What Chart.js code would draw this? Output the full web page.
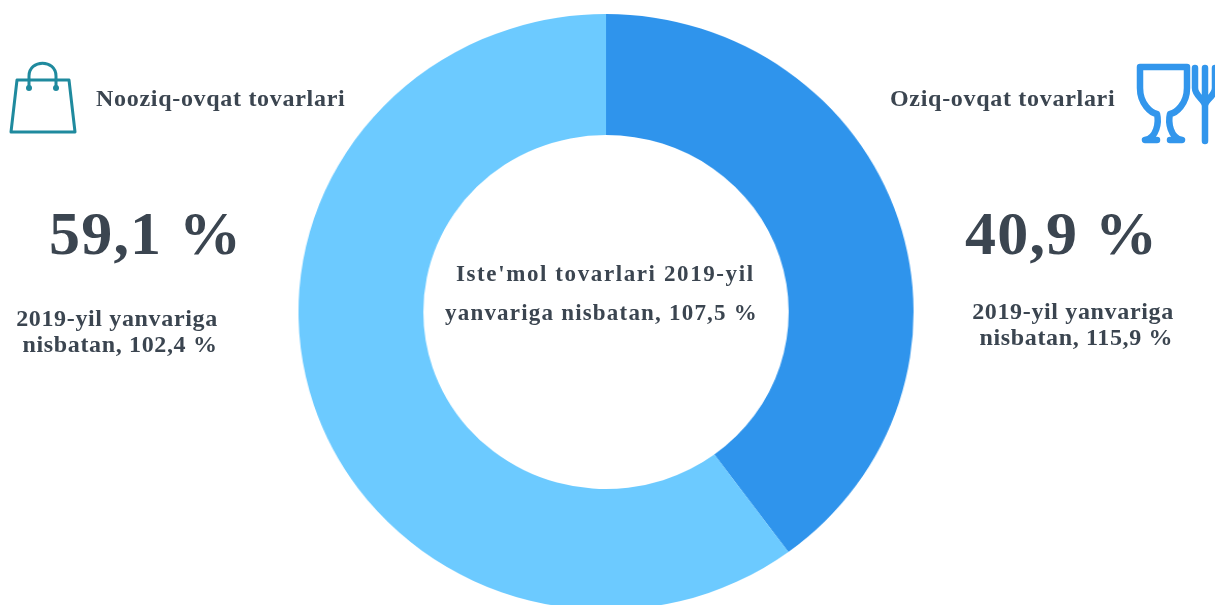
<!DOCTYPE html>
<html>
<head>
<meta charset="utf-8">
<script src="https://cdn.jsdelivr.net/npm/chart.js@4"></script>
<style>
html, body { margin: 0; padding: 0; background: #fff; width: 1215px; height: 605px; overflow: hidden; }
#wrap { position: relative; width: 1215px; height: 605px; overflow: hidden; }
#chart { position: absolute; left: 305.5px; top: 12px; transform: scaleX(1.032); }
.t { position: absolute; font-family: "Liberation Serif", serif; font-weight: bold; color: #3b4550; white-space: nowrap; }
.head { font-size: 24px; letter-spacing: 0.7px; line-height: 26px; }
.big { font-size: 62px; letter-spacing: 1.2px; line-height: 70px; }
.sub { font-size: 24px; letter-spacing: 0.65px; line-height: 26px; text-align: center; }
.mid { font-size: 23px; line-height: 26px; }
svg { position: absolute; left: 0; top: 0; }
</style>
</head>
<body>
<div id="wrap">
  <canvas id="chart" width="600" height="600"></canvas>

  <svg width="1215" height="605" fill="none" stroke-linecap="round" stroke-linejoin="round">
    <g stroke="#1f8a9e" stroke-width="3">
      <path d="M17 80 L69 80 L75 132 L11 132 Z"/>
      <path d="M29 87 L29 76 C29 59 56 59 56 76 L56 87"/>
    </g>
    <circle cx="29" cy="88" r="3" fill="#1f8a9e"/>
    <circle cx="56" cy="88" r="3" fill="#1f8a9e"/>
    <g stroke="#3296ec" stroke-width="6.5">
      <path d="M1140 67 L1187 67 L1187 88 C1187 104 1176 113 1170 114 C1168 122 1170 138 1182 140 L1170 140 M1140 67 L1140 88 C1140 104 1151 113 1157 114 C1159 122 1157 138 1145 140 L1157 140"/>
      <path d="M1195 68 L1195 88 C1195 96 1205 100 1205 106 L1205 141 M1205 68 L1205 96 M1215 68 L1215 88 C1215 96 1205 100 1205 106"/>
    </g>
  </svg>

  <div class="t head" style="left:96px; top:85px">Nooziq-ovqat tovarlari</div>
  <div class="t big" style="left:49px; top:198px">59,1 %</div>
  <div class="t sub" style="left:16px; top:305px; width:202px">2019-yil yanvariga<br><span style="position:relative; left:3px">nisbatan, 102,4 %</span></div>

  <div class="t head" style="left:890px; top:85px">Oziq-ovqat tovarlari</div>
  <div class="t big" style="left:965px; top:198px">40,9 %</div>
  <div class="t sub" style="left:972px; top:298px; width:202px">2019-yil yanvariga<br>&nbsp;nisbatan, 115,9 %</div>

  <div class="t mid" style="left:456px; top:261px; letter-spacing:1.6px">Iste'mol tovarlari 2019-yil</div>
  <div class="t mid" style="left:445px; top:300px; letter-spacing:1.2px">yanvariga nisbatan, 107,5 %</div>
</div>

<script>
// slice sizes as measured on the ring, clockwise from 12 o'clock
var categories = ["Oziq-ovqat tovarlari", "Nooziq-ovqat tovarlari"];
var sliceValues = [39.9, 60.1];
var sliceColors = ["#2f94ec", "#6ccaff"];

var ctx = document.getElementById("chart").getContext("2d");
var chart = new Chart(ctx, {
    type: "doughnut",
    data: {
        labels: categories,
        datasets: [{
            data: sliceValues,
            backgroundColor: sliceColors,
            borderWidth: 0
        }]
    },
    options: {
        responsive: false,
        animation: false,
        cutout: "59.4%",
        layout: { padding: 2 },
        plugins: {
            legend: { display: false },
            tooltip: { enabled: false }
        }
    }
});
</script>
</body>
</html>
